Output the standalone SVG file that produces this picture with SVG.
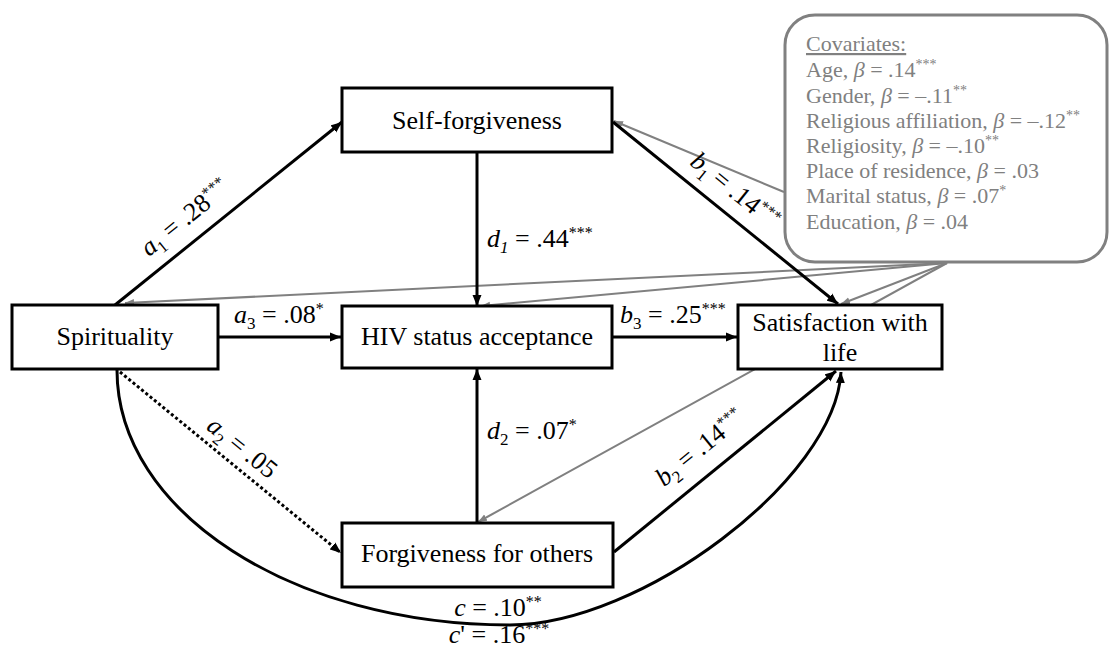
<svg xmlns="http://www.w3.org/2000/svg" width="1109" height="646" viewBox="0 0 1109 646">
<style>
.box{fill:#fff;stroke:#000;stroke-width:3}
.t{font-family:"Liberation Serif","Times New Roman",serif;font-size:26px;fill:#000}
.mid{text-anchor:middle}
.it{font-style:italic}
.edge{fill:none;stroke:#000;stroke-width:3}
.dot{stroke-dasharray:3 2.5}
.cedge{fill:none;stroke:#808080;stroke-width:2}
.cov{font-family:"Liberation Serif","Times New Roman",serif;font-size:22px;fill:#808080}
.covbox{fill:#fff;stroke:#808080;stroke-width:3}
</style>
<defs>
<marker id="ah" markerUnits="userSpaceOnUse" markerWidth="12" markerHeight="10" refX="11" refY="5" orient="auto"><path d="M0,0.5 L11,5 L0,9.5 z" fill="#000"/></marker>
<marker id="gh" markerUnits="userSpaceOnUse" markerWidth="10" markerHeight="8" refX="9" refY="4" orient="auto"><path d="M0,0.5 L9,4 L0,7.5 z" fill="#808080"/></marker>
</defs>
<rect width="1109" height="646" fill="#fff"/>
<g id="connectors">
<path class="cedge" d="M947,263 L125,303" marker-end="url(#gh)"/>
<path class="cedge" d="M947,263 L481,306" marker-end="url(#gh)"/>
<path class="cedge" d="M947,263 L841,304" marker-end="url(#gh)"/>
<path class="cedge" d="M947,263 L478,522" marker-end="url(#gh)"/>
<path class="cedge" d="M784,192 L614,121" marker-end="url(#gh)"/>
<path class="edge" d="M115,305 L342,122" marker-end="url(#ah)"/>
<path class="edge" d="M219,337 L341,337" marker-end="url(#ah)"/>
<path class="edge" d="M477,153 L477,306" marker-end="url(#ah)"/>
<path class="edge" d="M613,337 L737,337" marker-end="url(#ah)"/>
<path class="edge" d="M477,522 L477,369" marker-end="url(#ah)"/>
<path class="edge" d="M613,122 L838,304" marker-end="url(#ah)"/>
<path class="edge" d="M614,552 L836,371" marker-end="url(#ah)"/>
<path class="edge dot" d="M120,372 L341,553" marker-end="url(#ah)"/>
<path class="edge" d="M117,370 C117,512 293,625 510,625 C640,625 835,480 841,372" marker-end="url(#ah)"/>
<text class="t mid" transform="translate(190,224) rotate(-38.9)"><tspan class="it">a</tspan><tspan font-size="17" dy="6">1</tspan><tspan dy="-6"> = .28</tspan><tspan font-size="16" dy="-9">***</tspan></text>
<text class="t" x="234" y="323"><tspan class="it">a</tspan><tspan font-size="17" dy="6">3</tspan><tspan dy="-6"> = .08</tspan><tspan font-size="16" dy="-9">*</tspan></text>
<text class="t" x="487" y="247"><tspan class="it">d</tspan><tspan class="it" font-size="17" dy="6">1</tspan><tspan dy="-6"> = .44</tspan><tspan font-size="16" dy="-9">***</tspan></text>
<text class="t" x="620" y="323"><tspan class="it">b</tspan><tspan font-size="17" dy="6">3</tspan><tspan dy="-6"> = .25</tspan><tspan font-size="16" dy="-9">***</tspan></text>
<text class="t" x="487" y="439"><tspan class="it">d</tspan><tspan font-size="17" dy="6">2</tspan><tspan dy="-6"> = .07</tspan><tspan font-size="16" dy="-9">*</tspan></text>
<text class="t mid" transform="translate(730,197) rotate(38.8)"><tspan class="it">b</tspan><tspan font-size="17" dy="6">1</tspan><tspan dy="-6"> = .14</tspan><tspan font-size="16" dy="-9">***</tspan></text>
<text class="t mid" transform="translate(705,454) rotate(-39)"><tspan class="it">b</tspan><tspan font-size="17" dy="6">2</tspan><tspan dy="-6"> = .14</tspan><tspan font-size="16" dy="-9">***</tspan></text>
<text class="t mid" transform="translate(237,454) rotate(38.7)"><tspan class="it">a</tspan><tspan font-size="17" dy="6">2</tspan><tspan dy="-6"> = .05</tspan></text>
<text class="t mid" x="498" y="616"><tspan class="it">c</tspan><tspan> = .10</tspan><tspan font-size="16" dy="-9">**</tspan></text>
<text class="t mid" x="499" y="643"><tspan class="it">c</tspan><tspan>' = .16</tspan><tspan font-size="16" dy="-9">***</tspan></text>
</g>
<g id="self-forgiveness">
<rect class="box" x="342" y="88" width="270" height="64"/>
<text class="t mid" x="477" y="129">Self-forgiveness</text>
</g>
<g id="spirituality">
<rect class="box" x="12" y="305" width="206" height="64"/>
<text class="t mid" x="115" y="345">Spirituality</text>
</g>
<g id="hiv-status-acceptance">
<rect class="box" x="342" y="306" width="270" height="62"/>
<text class="t mid" x="477" y="345">HIV status acceptance</text>
</g>
<g id="satisfaction-with-life">
<rect class="box" x="738" y="305" width="204" height="64"/>
<text class="t mid" x="840" y="331">Satisfaction with</text>
<text class="t mid" x="840" y="361">life</text>
</g>
<g id="forgiveness-for-others">
<rect class="box" x="342" y="523" width="271" height="64"/>
<text class="t mid" x="477" y="562">Forgiveness for others</text>
</g>
<g id="covariates">
<rect class="covbox" x="785" y="15" width="322" height="247" rx="30" ry="30"/>
<text class="cov" x="806" y="51" text-decoration="underline">Covariates:</text>
<text class="cov" x="806" y="77">Age, <tspan class="it">β</tspan> = .14<tspan font-size="14" dy="-8">***</tspan></text>
<text class="cov" x="806" y="103">Gender, <tspan class="it">β</tspan> = –.11<tspan font-size="14" dy="-8">**</tspan></text>
<text class="cov" x="806" y="128">Religious affiliation, <tspan class="it">β</tspan> = –.12<tspan font-size="14" dy="-8">**</tspan></text>
<text class="cov" x="806" y="153">Religiosity, <tspan class="it">β</tspan> = –.10<tspan font-size="14" dy="-8">**</tspan></text>
<text class="cov" x="806" y="178">Place of residence, <tspan class="it">β</tspan> = .03</text>
<text class="cov" x="806" y="203">Marital status, <tspan class="it">β</tspan> = .07<tspan font-size="14" dy="-8">*</tspan></text>
<text class="cov" x="806" y="229">Education, <tspan class="it">β</tspan> = .04</text>
</g>
</svg>
